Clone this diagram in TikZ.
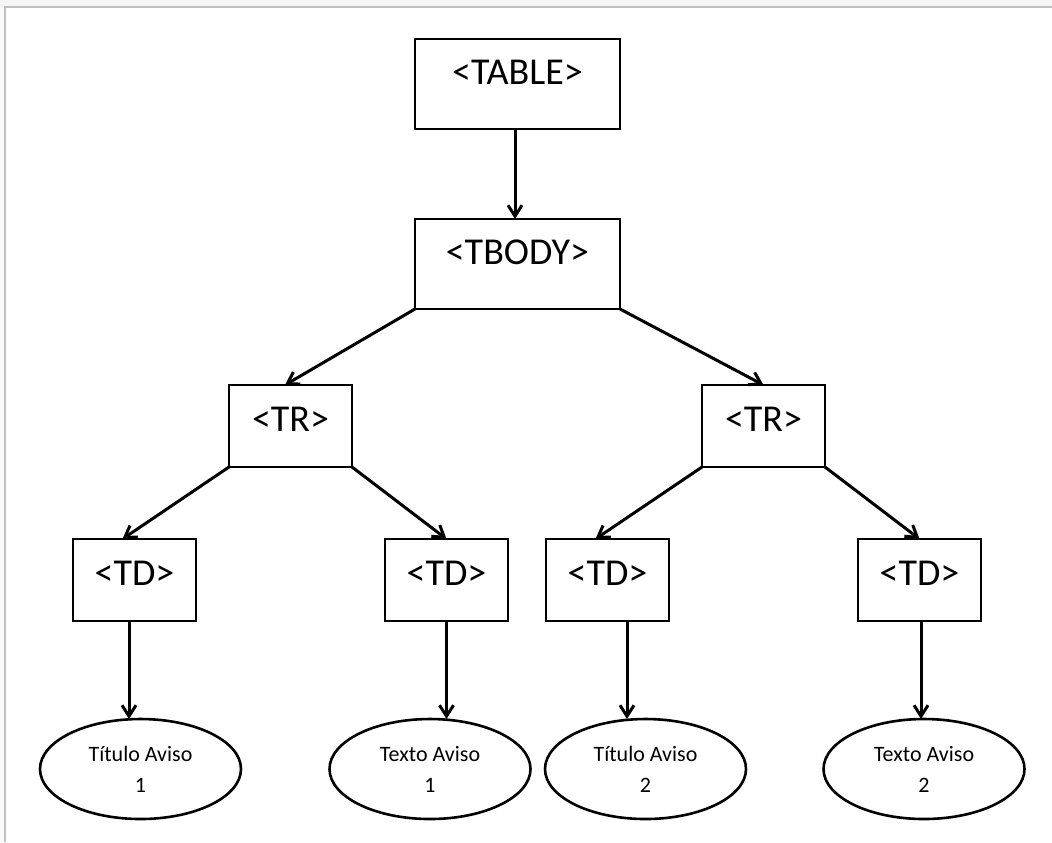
\documentclass[tikz,border=0pt]{standalone}
\usepackage{fontspec}
\setmainfont{Carlito}
\usepackage{tikz}
\usetikzlibrary{arrows.meta, positioning, shapes.geometric}

\begin{document}
\begin{tikzpicture}[tag/.style={rectangle,draw,line width=1.4pt,outer sep=0pt,minimum width=61.5pt,minimum height=41pt,font=\fontsize{19}{22}\selectfont,text height=12.5pt,text depth=7.2pt}, bigtag/.style={tag,minimum width=102.5pt,minimum height=45pt,text depth=11.6pt}, leaf/.style={ellipse,draw,line width=1.3pt,outer sep=0pt,minimum width=100.5pt,minimum height=50pt,inner sep=0pt,align=center,font=\fontsize{11}{15.5}\selectfont}, ->, >={Straight Barb[length=5.5pt,width=7pt]}, line width=1.5pt]
        \useasboundingbox (0,0) rectangle (526pt,-421pt);
        \fill[gray!8] (0,0) rectangle (526pt,-3.5pt);
        \fill[gray!4] (0,-3.5pt) rectangle (2.5pt,-421pt);
        \draw[-, gray!50, line width=0.6pt] (2.5pt,-421pt) -- (2.5pt,-3.5pt) -- (526pt,-3.5pt);

        \node[bigtag] (table) at (258.75pt,-42pt) {<TABLE>};
        \node[bigtag, below=45pt of table] (tbody) {<TBODY>};
        \node[tag, below left=38pt and 31.5pt of tbody] (trl) {<TR>};
        \node[tag, below right=38pt and 41pt of tbody] (trr) {<TR>};
        \node[tag, below left=36pt and 16.5pt of trl] (td1) {<TD>};
        \node[tag, below right=36pt and 16.5pt of trl] (td2) {<TD>};
        \node[tag, below left=36pt and 16.5pt of trr] (td3) {<TD>};
        \node[tag, below right=36pt and 16.5pt of trr] (td4) {<TD>};
        \node[leaf, below=49pt of td1, xshift=3pt] (e1) {Título Aviso\\1};
        \node[leaf, below=49pt of td2, xshift=-8.25pt] (e2) {Texto Aviso\\1};
        \node[leaf, below=49pt of td3, xshift=19pt] (e3) {Título Aviso\\2};
        \node[leaf, below=49pt of td4, xshift=2.25pt] (e4) {Texto Aviso\\2};

        \draw ([xshift=-1.25pt]table.south) -- ([xshift=-1.25pt]tbody.north);
        \draw (tbody.south west) -- ([xshift=-2.75pt]trl.north);
        \draw (tbody.south east) -- (trr.north);
        \draw (trl.south west) -- ([xshift=-6pt]td1.north);
        \draw (trl.south east) -- (td2.north);
        \draw (trr.south west) -- ([xshift=-6pt]td3.north);
        \draw (trr.south east) -- (td4.north);
        \draw ([xshift=-2.75pt]td1.south) -- ([xshift=-2.75pt]td1.south |- e1.north);
        \draw (td2.south) -- (td2.south |- e2.north);
        \draw ([xshift=9.75pt]td3.south) -- ([xshift=9.75pt]td3.south |- e3.north);
        \draw ([xshift=0.75pt]td4.south) -- ([xshift=0.75pt]td4.south |- e4.north);
    \end{tikzpicture}
\end{document}
